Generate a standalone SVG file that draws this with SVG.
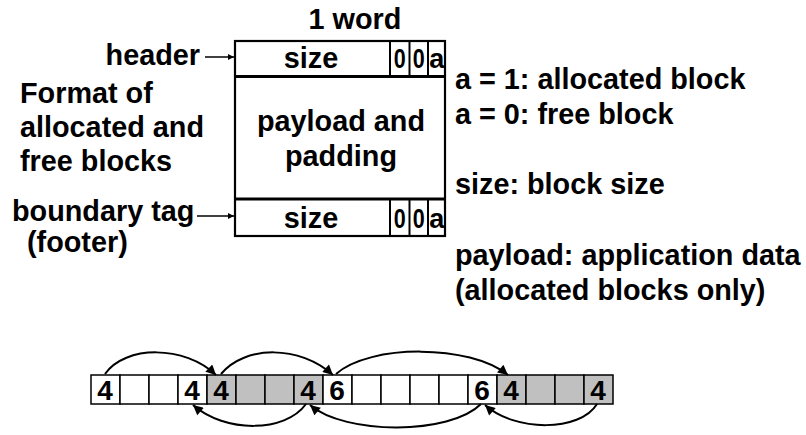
<svg xmlns="http://www.w3.org/2000/svg" width="806" height="435" viewBox="0 0 806 435">
<style>
text{font-family:"Liberation Sans",Arial,sans-serif;font-weight:bold;fill:#000}
.t{font-size:28.8px}
.bit{font-size:27px}
.num{font-size:28px;text-anchor:middle}
.c{text-anchor:middle}
.box{fill:#fff;stroke:#000;stroke-width:2.2}
.sep{stroke:#000;stroke-width:3}
.thin{stroke:#000;stroke-width:2}
.cell{fill:#fff;stroke:#000;stroke-width:1.5}
.g{fill:#c0c0c0}
.ptr{fill:none;stroke:#000;stroke-width:2}
.lbl{fill:none;stroke:#000;stroke-width:1.5}
</style>
<defs>
<marker id="ah" viewBox="0 0 10 10" refX="10" refY="5" markerWidth="12" markerHeight="10" markerUnits="userSpaceOnUse" orient="auto"><path d="M0,0 L10,5 L0,10 z" fill="#000"/></marker>
<marker id="sa" viewBox="0 0 10 10" refX="10" refY="5" markerWidth="8" markerHeight="6" markerUnits="userSpaceOnUse" orient="auto"><path d="M0,0 L10,5 L0,10 z" fill="#000"/></marker>
</defs>

<g id="title"><text class="t c" x="355" y="29">1 word</text></g>

<g id="block-format">
<rect class="box" x="235" y="41" width="210" height="195"/>
<line class="sep" x1="235" y1="76.5" x2="445" y2="76.5"/>
<line class="sep" x1="235" y1="199" x2="445" y2="199"/>
<line class="thin" x1="390" y1="41" x2="390" y2="76"/>
<line class="thin" x1="409.5" y1="41" x2="409.5" y2="76"/>
<line class="thin" x1="428" y1="41" x2="428" y2="76"/>
<line class="thin" x1="390" y1="200" x2="390" y2="236"/>
<line class="thin" x1="409.5" y1="200" x2="409.5" y2="236"/>
<line class="thin" x1="428" y1="200" x2="428" y2="236"/>
<text class="t c" x="311" y="68">size</text>
<text class="bit c" x="399.8" y="68" textLength="12" lengthAdjust="spacingAndGlyphs">0</text>
<text class="bit c" x="418.8" y="68" textLength="12" lengthAdjust="spacingAndGlyphs">0</text>
<text class="bit c" x="436.7" y="68">a</text>
<text class="t c" x="341" y="131">payload and</text>
<text class="t c" x="341" y="166">padding</text>
<text class="t c" x="311" y="228">size</text>
<text class="bit c" x="399.8" y="228" textLength="12" lengthAdjust="spacingAndGlyphs">0</text>
<text class="bit c" x="418.8" y="228" textLength="12" lengthAdjust="spacingAndGlyphs">0</text>
<text class="bit c" x="436.7" y="228">a</text>
</g>

<g id="label-header"><text class="t" x="200" y="65" text-anchor="end">header</text></g>
<g id="label-format">
<text class="t" x="20" y="103">Format of</text>
<text class="t" x="20" y="137">allocated and</text>
<text class="t" x="20" y="171">free blocks</text>
</g>
<g id="label-footer">
<text class="t" x="12" y="221">boundary tag</text>
<text class="t" x="27" y="252">(footer)</text>
</g>
<g id="legend">
<text class="t" x="455" y="89">a = 1: allocated block</text>
<text class="t" x="455" y="124">a = 0: free block</text>
<text class="t" x="455" y="194">size: block size</text>
<text class="t" x="455" y="265">payload: application data</text>
<text class="t" x="455" y="300">(allocated blocks only)</text>
</g>

<g id="heap">
<g id="blk1">
<rect class="cell" x="91" y="375" width="29" height="29"/>
<rect class="cell" x="120" y="375" width="29" height="29"/>
<rect class="cell" x="149" y="375" width="29" height="29"/>
<rect class="cell" x="178" y="375" width="29" height="29"/>
<text class="num" x="105" y="400">4</text>
<text class="num" x="192" y="400">4</text>
</g>
<g id="blk2">
<rect class="cell g" x="207" y="375" width="29" height="29"/>
<rect class="cell g" x="236" y="375" width="29" height="29"/>
<rect class="cell g" x="265" y="375" width="29" height="29"/>
<rect class="cell g" x="294" y="375" width="29" height="29"/>
<text class="num" x="221" y="400">4</text>
<text class="num" x="308" y="400">4</text>
</g>
<g id="blk3">
<rect class="cell" x="323" y="375" width="29" height="29"/>
<rect class="cell" x="352" y="375" width="29" height="29"/>
<rect class="cell" x="381" y="375" width="29" height="29"/>
<rect class="cell" x="410" y="375" width="29" height="29"/>
<rect class="cell" x="439" y="375" width="29" height="29"/>
<rect class="cell" x="468" y="375" width="29" height="29"/>
<text class="num" x="337" y="400">6</text>
<text class="num" x="482" y="400">6</text>
</g>
<g id="blk4">
<rect class="cell g" x="497" y="375" width="29" height="29"/>
<rect class="cell g" x="526" y="375" width="29" height="29"/>
<rect class="cell g" x="555" y="375" width="29" height="29"/>
<rect class="cell g" x="584" y="375" width="29" height="29"/>
<text class="num" x="511" y="400">4</text>
<text class="num" x="598" y="400">4</text>
</g>
</g>

<g id="connectors">
<line class="lbl" x1="205" y1="57" x2="234" y2="57" marker-end="url(#sa)"/>
<line class="lbl" x1="197" y1="216" x2="234" y2="216" marker-end="url(#sa)"/>
<path class="ptr" d="M105,374 C125,345 185,345 216,375" marker-end="url(#ah)"/>
<path class="ptr" d="M221,374 C245,345 300,345 333,375" marker-end="url(#ah)"/>
<path class="ptr" d="M336,374 C370,344 470,344 508,375" marker-end="url(#ah)"/>
<path class="ptr" d="M306,404 C285,433 225,433 193,405" marker-end="url(#ah)"/>
<path class="ptr" d="M481,404 C450,435 345,435 310,405" marker-end="url(#ah)"/>
<path class="ptr" d="M597,404 C580,432 515,432 485,405" marker-end="url(#ah)"/>
</g>
</svg>
